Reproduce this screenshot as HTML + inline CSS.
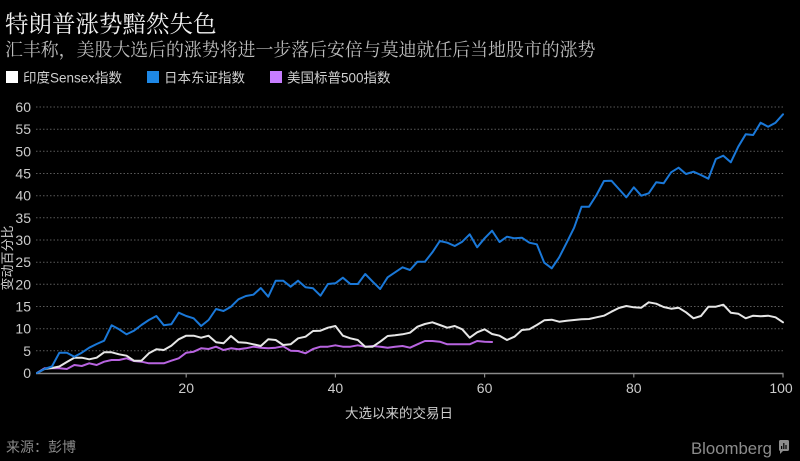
<!DOCTYPE html>
<html>
<head>
<meta charset="utf-8">
<style>
  html,body{margin:0;padding:0;background:#000;}
  body{width:800px;height:461px;overflow:hidden;position:relative;}
  svg{display:block;}
</style>
</head>
<body>
<svg width="800" height="461" viewBox="0 0 800 461" xmlns="http://www.w3.org/2000/svg">
  <rect x="0" y="0" width="800" height="461" fill="#000"/>

  <!-- Title -->
  <text x="5" y="32" font-family="'Liberation Serif','Noto Serif CJK SC',serif" font-size="23.5" fill="#f2f2f2">特朗普涨势黯然失色</text>
  <text x="5" y="56" font-family="'Liberation Serif','Noto Serif CJK SC',serif" font-size="17.9" fill="#bdbdbd">汇丰称，美股大选后的涨势将进一步落后安倍与莫迪就任后当地股市的涨势</text>

  <!-- Legend -->
  <rect x="6" y="71" width="12" height="12" fill="#ffffff"/>
  <text x="23" y="82.5" font-family="'Liberation Sans','Noto Sans CJK SC',sans-serif" font-size="13.5" fill="#cfcfcf">印度Sensex指数</text>
  <rect x="147" y="71" width="12" height="12" fill="#1e88e5"/>
  <text x="164" y="82.5" font-family="'Liberation Sans','Noto Sans CJK SC',sans-serif" font-size="13.5" fill="#cfcfcf">日本东证指数</text>
  <rect x="270" y="71" width="12" height="12" fill="#c77dff"/>
  <text x="287" y="82.5" font-family="'Liberation Sans','Noto Sans CJK SC',sans-serif" font-size="13.5" fill="#cfcfcf">美国标普500指数</text>

  <!-- Grid lines -->
  <g stroke="#5a5a5a" stroke-width="1" stroke-dasharray="1.5 2">
    <line x1="36" y1="350.8" x2="783" y2="350.8"/>
    <line x1="36" y1="328.7" x2="783" y2="328.7"/>
    <line x1="36" y1="306.5" x2="783" y2="306.5"/>
    <line x1="36" y1="284.3" x2="783" y2="284.3"/>
    <line x1="36" y1="262.2" x2="783" y2="262.2"/>
    <line x1="36" y1="240" x2="783" y2="240"/>
    <line x1="36" y1="217.8" x2="783" y2="217.8"/>
    <line x1="36" y1="195.7" x2="783" y2="195.7"/>
    <line x1="36" y1="173.5" x2="783" y2="173.5"/>
    <line x1="36" y1="151.3" x2="783" y2="151.3"/>
    <line x1="36" y1="129.2" x2="783" y2="129.2"/>
    <line x1="36" y1="107" x2="783" y2="107"/>
  </g>

  <!-- Y labels -->
  <g font-family="'Liberation Sans',sans-serif" font-size="14" fill="#cccccc" text-anchor="end">
    <text x="31" y="378">0</text>
    <text x="31" y="355.8">5</text>
    <text x="31" y="333.7">10</text>
    <text x="31" y="311.5">15</text>
    <text x="31" y="289.3">20</text>
    <text x="31" y="267.2">25</text>
    <text x="31" y="245">30</text>
    <text x="31" y="222.8">35</text>
    <text x="31" y="200.7">40</text>
    <text x="31" y="178.5">45</text>
    <text x="31" y="156.3">50</text>
    <text x="31" y="134.2">55</text>
    <text x="31" y="112">60</text>
  </g>

  <!-- Y axis title -->
  <text transform="translate(12,258) rotate(-90)" text-anchor="middle" font-family="'Liberation Sans','Noto Sans CJK SC',sans-serif" font-size="13" fill="#cccccc">变动百分比</text>

  <!-- X axis -->
  <line x1="36" y1="373.5" x2="783.5" y2="373.5" stroke="#8a8a8a" stroke-width="1.5"/>
  <g stroke="#8a8a8a" stroke-width="1.2">
    <line x1="186.2" y1="373.5" x2="186.2" y2="377.5"/>
    <line x1="335.4" y1="373.5" x2="335.4" y2="377.5"/>
    <line x1="484.6" y1="373.5" x2="484.6" y2="377.5"/>
    <line x1="633.8" y1="373.5" x2="633.8" y2="377.5"/>
    <line x1="783" y1="373.5" x2="783" y2="377.5"/>
  </g>
  <g font-family="'Liberation Sans',sans-serif" font-size="14" fill="#cccccc" text-anchor="middle">
    <text x="186.2" y="393">20</text>
    <text x="335.4" y="393">40</text>
    <text x="484.6" y="393">60</text>
    <text x="633.8" y="393">80</text>
    <text x="781" y="393">100</text>
  </g>
  <text x="399" y="418" text-anchor="middle" font-family="'Liberation Sans','Noto Sans CJK SC',sans-serif" font-size="13.5" fill="#cccccc">大选以来的交易日</text>

  <!-- Series -->
  <g transform="translate(37,0) scale(7.46,1)" fill="none" stroke-linejoin="round" stroke-linecap="round">
    <polyline vector-effect="non-scaling-stroke" stroke="#b864e0" stroke-width="2" points="0,373 1,368.3 2,368.3 3,368.3 4,369 5,365 6,366 7,363.3 8,365 9,361.7 10,360 11,360 12,358.3 13,361 14,361.7 15,363.3 16,363.3 17,363.3 18,360.7 19,358.3 20,352.7 21,351.7 22,348.3 23,349 24,346.7 25,350 26,348.3 27,349.3 28,348.3 29,346.7 30,347.7 31,348.3 32,347.7 33,346.3 34,350.7 35,351 36,353.3 37,349 38,346.7 39,346.7 40,345.3 41,346.7 42,346.7 43,345.3 44,346.7 45,346 46,346.7 47,347.7 48,346.7 49,346 50,347.7 51,344.3 52,341 53,341 54,341.7 55,344.3 56,344.3 57,344.3 58,344.3 59,341 60,341.7 61,342"/>
    <polyline vector-effect="non-scaling-stroke" stroke="#e6e6e6" stroke-width="2" points="0,373 1,369 2,368 3,366.5 4,362 5,357.7 6,357.7 7,359.3 8,357.7 9,352.3 10,352.3 11,354.3 12,355.7 13,360.7 14,360.7 15,353.3 16,349.3 17,350 18,345.7 19,339.3 20,335.7 21,335.7 22,337.7 23,335.7 24,342.3 25,343.3 26,336 27,342.3 28,342.7 29,344.3 30,346 31,339.3 32,340 33,345 34,344.3 35,338.3 36,336.7 37,331 38,330.7 39,327.7 40,326 41,335.7 42,338.3 43,340 44,346.7 45,346.7 46,341.7 47,336 48,335.3 49,334.3 50,332.7 51,326.7 52,324 53,322.3 54,325 55,327.7 56,326 57,329.3 58,337.7 59,332.3 60,329.3 61,334 62,335.7 63,340 64,336.7 65,330 66,329.3 67,325 68,320.3 69,319.7 70,321.7 71,320.7 72,320 73,319.3 74,319 75,317.3 76,315.7 77,311.7 78,308 79,306 80,307.3 81,307.7 82,302.3 83,303.7 84,307 85,308.7 86,307.7 87,312.3 88,318.3 89,316 90,306.7 91,306.7 92,304.7 93,312.7 94,313.7 95,318.3 96,315.7 97,316.3 98,315.7 99,317.3 100,322.3"/>
    <polyline vector-effect="non-scaling-stroke" stroke="#1a78d8" stroke-width="2" points="0,373 1,369 2,366.5 3,352.7 4,352.7 5,356.7 6,352.7 7,347.7 8,344 9,340.7 10,325.3 11,329.3 12,334.3 13,330.7 14,325 15,320 16,316 17,325.3 18,324.3 19,312.7 20,316 21,318.3 22,326 23,320 24,309 25,311 26,306.7 27,299.3 28,296 29,294.7 30,288 31,296.7 32,280.7 33,280.7 34,286.7 35,280.7 36,287.3 37,288.3 38,295.7 39,284 40,283.3 41,277.7 42,284 43,284 44,274 45,281.7 46,289 47,277.3 48,272.3 49,267.3 50,270 51,261.7 52,261.7 53,252.3 54,241 55,242.7 56,246 57,241.7 58,234.3 59,247.3 60,238.3 61,230.7 62,242 63,236.7 64,238.3 65,237.7 66,242.7 67,244.3 68,262.7 69,268.3 70,257.3 71,242.7 72,227.7 73,206.7 74,206.7 75,195 76,181 77,180.7 78,189 79,197.3 80,187.3 81,195.7 82,193.3 83,182.3 84,183.3 85,172.3 86,167.7 87,174 88,171.7 89,175 90,178.7 91,159 92,155.7 93,162.3 94,146.7 95,134.3 96,135 97,122.7 98,126.7 99,122.7 100,114.3"/>
  </g>

  <!-- Footer -->
  <text x="6" y="452" font-family="'Liberation Sans','Noto Sans CJK SC',sans-serif" font-size="14" fill="#8a8a8a">来源：彭博</text>
  <text x="691" y="454" font-family="'Liberation Sans',sans-serif" font-size="17" fill="#8c8c8c" textLength="81" lengthAdjust="spacingAndGlyphs">Bloomberg</text>
  <g>
    <rect x="779" y="440" width="10" height="11" rx="1.5" fill="#8c8c8c"/>
    <polygon points="780,450 784,450 780,454" fill="#8c8c8c"/>
    <rect x="781" y="446" width="1.2" height="3" fill="#000"/>
    <rect x="783.2" y="443" width="1.2" height="6" fill="#000"/>
    <rect x="785.4" y="445" width="1.2" height="4" fill="#000"/>
  </g>
</svg>
</body>
</html>
